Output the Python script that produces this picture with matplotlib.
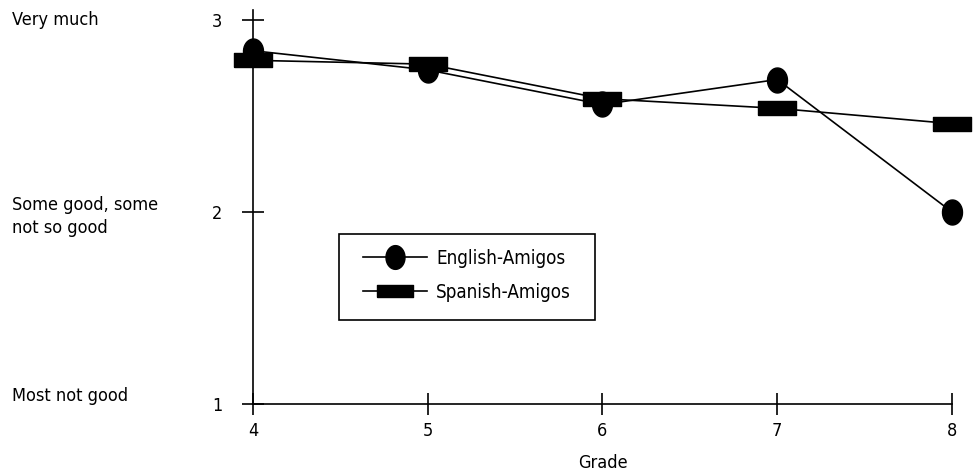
import numpy as np
import matplotlib
matplotlib.use("Agg")
import matplotlib.pyplot as plt
from matplotlib.patches import Rectangle

plt.rcParams['font.family'] = ['DejaVu Sans']
plt.rcParams['font.stretch'] = 'condensed'

grades = [4, 5, 6, 7, 8]
english = [2.84, 2.74, 2.56, 2.69, 2.00]
spanish = [2.79, 2.77, 2.59, 2.54, 2.46]
y_ticks = [1, 2, 3]
y_names = ["Most not good", "Some good, some\nnot so good", "Very much"]
name_shift = [6, -3, 0]  # small nudges in points so the labels sit like the original

# custom marker shapes: tall ellipse and flat bar
t = np.linspace(0, 2 * np.pi, 40)
ellipse = list(zip(0.8 * np.cos(t), np.sin(t)))
bar = [(-1, -0.36), (1, -0.36), (1, 0.36), (-1, 0.36), (-1, -0.36)]

fig = plt.figure(figsize=(9.78, 4.76), dpi=100)
ax = fig.add_axes([253 / 978, 72 / 476, 699 / 978, 394 / 476])

ax.plot(grades, english, color='black', lw=1.2, marker=ellipse, ms=18,
        mfc='black', mec='black', label='English-Amigos', clip_on=False, zorder=3)
ax.plot(grades, spanish, color='black', lw=1.2, marker=bar, ms=27,
        mfc='black', mec='black', label='Spanish-Amigos', clip_on=False, zorder=3)

ax.set_xlim(4, 8)
ax.set_ylim(1, 3 + 10 / 192)
ax.set_xticks(grades)
ax.set_yticks(y_ticks)
ax.spines['top'].set_visible(False)
ax.spines['right'].set_visible(False)
for s in ('left', 'bottom'):
    ax.spines[s].set_linewidth(1.2)
ax.tick_params(direction='inout', length=16, width=1.2, labelsize=13)
ax.tick_params(axis='y', pad=14)
ax.tick_params(axis='x', pad=5)
ax.set_xlabel('Grade', fontsize=13, labelpad=10)

for v, name, dy in zip(y_ticks, y_names, name_shift):
    ax.annotate(name, xy=(12 / 978, v), xycoords=('figure fraction', 'data'),
                xytext=(0, dy), textcoords='offset points',
                fontsize=13, va='center', ha='left', linespacing=1.35)

# legend entries without frame, box drawn separately to get the original padding
leg = ax.legend(loc='upper left', bbox_to_anchor=(363 / 978, 1 - 249 / 476),
                bbox_transform=fig.transFigure, frameon=False, fontsize=13.5,
                handlelength=3.4, borderpad=0, borderaxespad=0,
                labelspacing=0.8, handletextpad=0.5, markerscale=0.95)
fig.patches.append(Rectangle((339 / 978, 1 - 320 / 476), 256 / 978, 86 / 476,
                             transform=fig.transFigure, fill=False,
                             edgecolor='black', lw=1.2))

fig.savefig('out.png', dpi=100)
